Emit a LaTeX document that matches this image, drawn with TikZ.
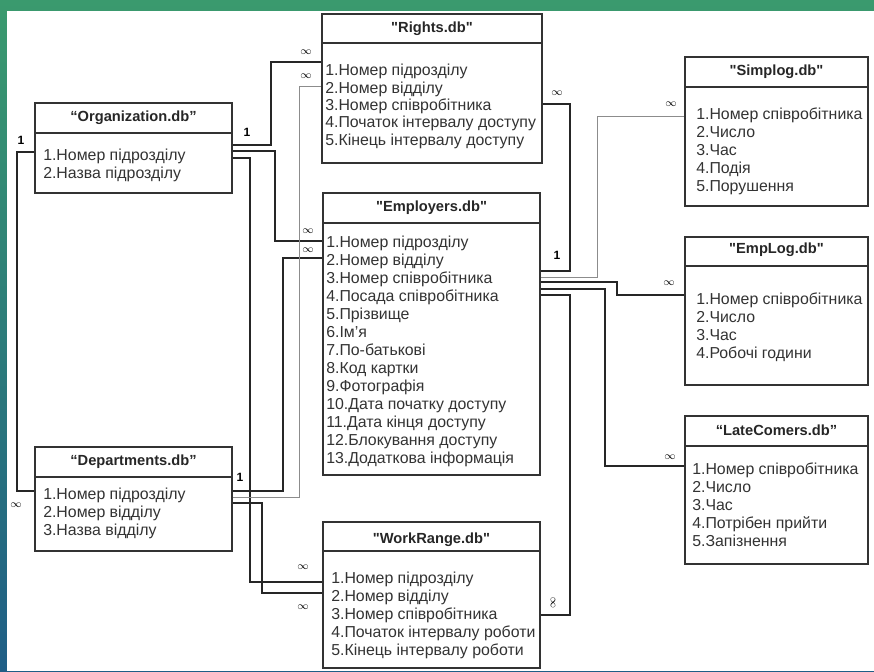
\documentclass[tikz,border=0pt]{standalone}
\usepackage{fontspec}
\setmainfont{Liberation Sans}
\usetikzlibrary{fit}
\definecolor{bggreen}{HTML}{3A9A6E}
\definecolor{bgblue}{HTML}{1F5E86}

\begin{document}
\begin{tikzpicture}[x=0.75pt,y=-0.75pt,
  tbl/.style={draw=black!80,line width=1.1pt,inner sep=0pt},
  hline/.style={draw=black!80,line width=0.9pt},
  tbltitle/.style={font=\fontsize{11}{13.5}\selectfont\bfseries,text=black!85,inner sep=0pt},
  tblrows/.style={font=\fontsize{11.9}{13.5}\selectfont,text=black!80,align=left,anchor=north west,inner sep=0pt},
  link/.style={draw=black!85,line width=1pt},
  faint/.style={draw=black!45,line width=0.7pt},
  many/.style={font=\footnotesize,inner sep=0pt},
  one/.style={font=\small\bfseries,inner sep=0pt}]
\useasboundingbox (0,0) rectangle (874,671);
\shade[top color=bggreen,bottom color=bgblue] (0,0) rectangle (874,671);
\fill[white] (7,11) rectangle (874,671);

% tables
\node[tbl,fit={(35,103) (232,193)}] (org) {};
\draw[hline] (org.west |- 0,133) -- (org.east |- 0,133);
\node[tbltitle] (org-t) at (133.5,118) {“Organization.db”};
\node[tblrows] (org-r) at (43,149) {1.Номер підрозділу\\2.Назва підрозділу};

\node[tbl,fit={(35,447) (232,551)}] (dep) {};
\draw[hline] (dep.west |- 0,477) -- (dep.east |- 0,477);
\node[tbltitle] (dep-t) at (133.5,462) {“Departments.db”};
\node[tblrows] (dep-r) at (43,488) {1.Номер підрозділу\\2.Номер відділу\\3.Назва відділу};

\node[tbl,fit={(322,14) (542,163)}] (rig) {};
\draw[hline] (rig.west |- 0,43) -- (rig.east |- 0,43);
\node[tbltitle] (rig-t) at (432,29) {\textquotedbl Rights.db\textquotedbl};
\node[tblrows,font=\fontsize{11.9}{13}\selectfont] (rig-r) at (325,64) {1.Номер підрозділу\\2.Номер відділу\\3.Номер співробітника\\4.Початок інтервалу доступу\\5.Кінець інтервалу доступу};

\node[tbl,fit={(323,193) (540,475)}] (emp) {};
\draw[hline] (emp.west |- 0,223) -- (emp.east |- 0,223);
\node[tbltitle] (emp-t) at (431.5,208) {\textquotedbl Employers.db\textquotedbl};
\node[tblrows] (emp-r) at (326,236) {1.Номер підрозділу\\2.Номер відділу\\3.Номер співробітника\\4.Посада співробітника\\5.Прізвище\\6.Ім’я\\7.По-батькові\\8.Код картки\\9.Фотографія\\10.Дата початку доступу\\11.Дата кінця доступу\\12.Блокування доступу\\13.Додаткова інформація};

\node[tbl,fit={(323,522) (540,668)}] (wrk) {};
\draw[hline] (wrk.west |- 0,551) -- (wrk.east |- 0,551);
\node[tbltitle] (wrk-t) at (431.5,540) {\textquotedbl WorkRange.db\textquotedbl};
\node[tblrows] (wrk-r) at (331,572) {1.Номер підрозділу\\2.Номер відділу\\3.Номер співробітника\\4.Початок інтервалу роботи\\5.Кінець інтервалу роботи};

\node[tbl,fit={(685,57) (868,206)}] (sim) {};
\draw[hline] (sim.west |- 0,87) -- (sim.east |- 0,87);
\node[tbltitle] (sim-t) at (776.5,72) {\textquotedbl Simplog.db\textquotedbl};
\node[tblrows] (sim-r) at (696,108) {1.Номер співробітника\\2.Число\\3.Час\\4.Подія\\5.Порушення};

\node[tbl,fit={(685,237) (868,385)}] (elog) {};
\draw[hline] (elog.west |- 0,266) -- (elog.east |- 0,266);
\node[tbltitle] (elog-t) at (776.5,250) {\textquotedbl EmpLog.db\textquotedbl};
\node[tblrows] (elog-r) at (696,293) {1.Номер співробітника\\2.Число\\3.Час\\4.Робочі години};

\node[tbl,fit={(685,416) (868,564)}] (late) {};
\draw[hline] (late.west |- 0,446) -- (late.east |- 0,446);
\node[tbltitle] (late-t) at (776.5,430) {“LateComers.db”};
\node[tblrows] (late-r) at (692,463) {1.Номер співробітника\\2.Число\\3.Час\\4.Потрібен прийти\\5.Запізнення};

% links
\draw[link] (org.west |- 0,152) -- (17,152) -- (17,491) -- (dep.west |- 0,491);
\draw[link] (org.east |- 0,145) -- (271,145) -- (271,62) -- (rig.west |- 0,62);
\draw[link] (org.east |- 0,151) -- (275,151) -- (275,241) -- (emp.west |- 0,241);
\draw[link] (org.east |- 0,158) -- (250,158) -- (250,582) -- (wrk.west |- 0,582);
\draw[link] (dep.east |- 0,491) -- (283,491) -- (283,258) -- (emp.west |- 0,258);
\draw[faint] (dep.east |- 0,497) -- (299,497) -- (299,86) -- (rig.west |- 0,86);
\draw[link] (dep.east |- 0,503) -- (262,503) -- (262,593) -- (wrk.west |- 0,593);
\draw[link] (rig.east |- 0,104) -- (570,104) -- (570,271) -- (emp.east |- 0,271);
\draw[faint] (emp.east |- 0,277) -- (597,277) -- (597,116) -- (sim.west |- 0,116);
\draw[link] (emp.east |- 0,282) -- (617,282) -- (617,295) -- (elog.west |- 0,295);
\draw[link] (emp.east |- 0,289) -- (605,289) -- (605,466) -- (late.west |- 0,466);
\draw[link] (emp.east |- 0,295) -- (570,295) -- (570,615) -- (wrk.east |- 0,615);

% cardinalities
\node[one] (c1) at (21,140) {1};
\node[one] (c2) at (247,132) {1};
\node[one] (c3) at (240,477) {1};
\node[one] (c4) at (557,255) {1};
\node[many] (m1) at (16,505) {$\infty$};
\node[many] (m2) at (306,52) {$\infty$};
\node[many] (m3) at (306,76) {$\infty$};
\node[many] (m4) at (308,231) {$\infty$};
\node[many] (m5) at (308,250) {$\infty$};
\node[many] (m6) at (303,567) {$\infty$};
\node[many] (m7) at (303,607) {$\infty$};
\node[many] (m8) at (557,93) {$\infty$};
\node[many] (m9) at (671,104) {$\infty$};
\node[many] (m10) at (669,283) {$\infty$};
\node[many] (m11) at (670,457) {$\infty$};
\node[many,rotate=90] (m12) at (553,603) {$\infty$};
\end{tikzpicture}
\end{document}
